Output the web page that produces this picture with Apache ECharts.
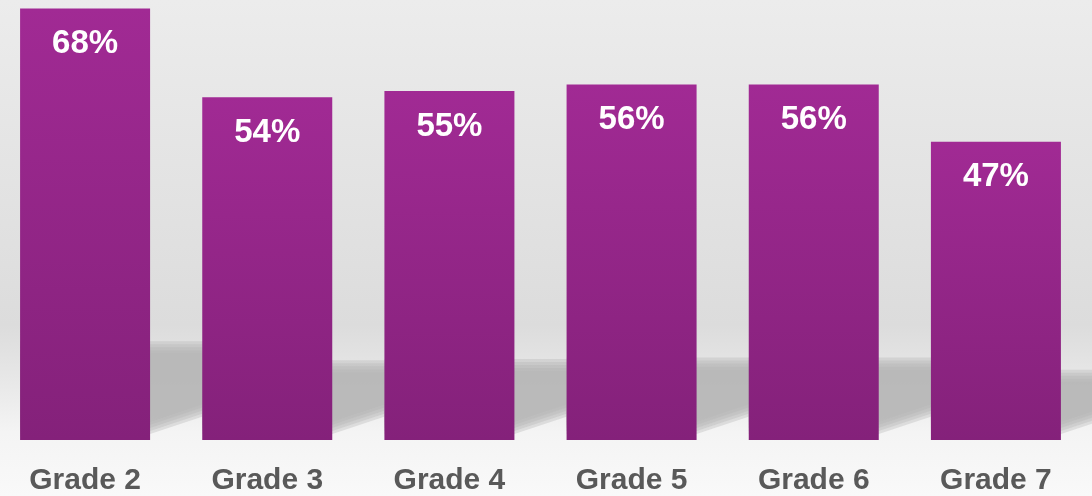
<!DOCTYPE html>
<html>
<head>
<meta charset="utf-8">
<script src="https://cdn.jsdelivr.net/npm/echarts@6/dist/echarts.min.js"></script>
<style>
html,body{margin:0;padding:0;overflow:hidden;}
body{
	width:1092px;
	height:496px;
	background:linear-gradient(to bottom,#ececec 0px,#dcdcdc 325px,#e1e1e1 350px,#ececec 400px,#f4f4f4 432px,#f9f9f9 496px);
}
#chart{
	width:1098px;
	height:496px;
	margin-left:-6px;
}
</style>
</head>
<body>
<div id="chart"></div>
<script type="text/javascript">
// 各年级数值（百分比）
var categories = ['Grade 2','Grade 3','Grade 4','Grade 5','Grade 6','Grade 7'];
var values = [68, 54, 55, 56, 56, 47];

var myChart = echarts.init(document.getElementById('chart'));

// 柱子后面的投影（PPT 透视阴影的近似），用几层半透明多边形模拟模糊
function renderShadow(params, api){
	var base = api.coord([api.value(0), 0]);
	var top = api.coord([api.value(0), api.value(1)]);
	var half = 65;
	var xL = base[0] - half, xR = base[0] + half;
	var sTop = base[1] - (base[1] - top[1]) * 0.215;
	var ext = 70;
	var layers = [];
	[-6,-3,0,3,6].forEach(function(d){
		layers.push({
			type:'polygon',
			shape:{
				points:[
					[xL, sTop - d],
					[xR + ext, sTop - d],
					[xR + ext, base[1] - 12 - ext/3 + d],
					[xR, base[1] - 12 + d],
					[xL, base[1] - 12 + d]
				]
			},
			style:{
				fill:'#b2b2b2',
				opacity:0.34
			}
		});
	});
	return {type:'group', children:layers};
}

myChart.setOption({
	animation:false,
	grid:{
		left:0,
		right:5,
		top:0,
		bottom:54
	},
	xAxis:{
		type:'category',
		data:categories,
		axisLine:{show:false},
		axisTick:{show:false},
		axisLabel:{
			color:'#595959',
			fontSize:30,
			fontWeight:'bold',
			fontFamily:'Liberation Sans, Arial, sans-serif',
			margin:26
		}
	},
	yAxis:{
		type:'value',
		min:0,
		max:69.33,
		show:false,
		splitLine:{show:false}
	},
	series:[{
		type:'custom',
		z:1,
		silent:true,
		renderItem:renderShadow,
		data:values.map(function(v, i){ return [i, v]; })
	},{
		type:'bar',
		z:2,
		data:values,
		barWidth:130,
		itemStyle:{
			color:new echarts.graphic.LinearGradient(0,0,0,1,[
				{offset:0,color:'#a12a94'},
				{offset:1,color:'#84217a'}
			])
		},
		label:{
			show:true,
			position:'insideTop',
			distance:19,
			formatter:'{c}%',
			color:'#ffffff',
			fontSize:33,
			fontWeight:'bold',
			fontFamily:'Liberation Sans, Arial, sans-serif'
		}
	}]
});
</script>
</body>
</html>
